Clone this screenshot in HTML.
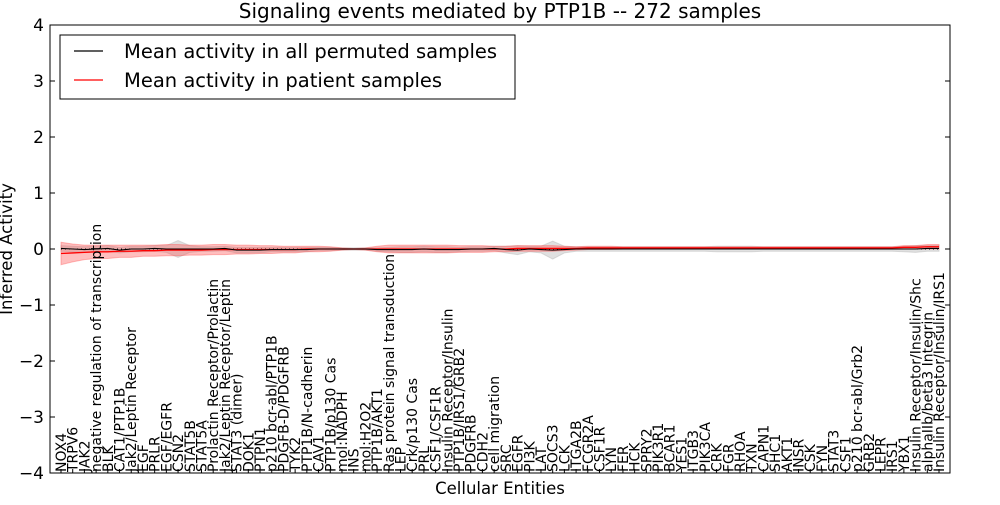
<!DOCTYPE html>
<html><head><meta charset="utf-8"><style>
body{margin:0;background:#fff;}
svg text{font-family:"DejaVu Sans","Liberation Sans",sans-serif;}
</style></head><body>
<svg id="chart" width="1000" height="500" xmlns="http://www.w3.org/2000/svg">
<rect width="1000" height="500" fill="#fff"/>
<text x="500" y="18" text-anchor="middle" font-size="20">Signaling events mediated by PTP1B -- 272 samples</text>
<g id="bands"></g>
<g id="lines"></g>
<g id="axes"></g>
<g id="xlabels"></g>
<text x="500" y="494" text-anchor="middle" font-size="16.5">Cellular Entities</text>
<text transform="translate(12,249) rotate(-90)" text-anchor="middle" font-size="16.5">Inferred Activity</text>
<g>
<rect x="60" y="35" width="455" height="64" fill="#fff" stroke="#000" stroke-width="1"/>
<line x1="74" y1="51" x2="103" y2="51" stroke="#000" stroke-width="1.2"/>
<text x="124" y="58" font-size="19.5">Mean activity in all permuted samples</text>
<line x1="74" y1="80" x2="103" y2="80" stroke="#f00" stroke-width="1.2"/>
<text x="124" y="87" font-size="19.5">Mean activity in patient samples</text>
</g>
</svg>
<script>
const categories=["NOX4","TRPV6","JAK2","negative regulation of transcription","BLK","CAT1/PTP1B","Jak2/Leptin Receptor","EGF","PRLR","EGF/EGFR","CSN2","STAT5B","STAT5A","Prolactin Receptor/Prolactin","Jak2/Leptin Receptor/Leptin","STAT3 (dimer)","DOK1","PTPN1","p210 bcr-abl/PTP1B","PDGFB-D/PDGFRB","TYK2","PTP1B/N-cadherin","CAV1","PTP1B/p130 Cas","mol:NADPH","INS","mol:H2O2","PTP1B/AKT1","Ras protein signal transduction","LEP","Crk/p130 Cas","PRL","CSF1/CSF1R","Insulin Receptor/Insulin","PTP1B/IRS1/GRB2","PDGFRB","CDH2","cell migration","SRC","EGFR","PI3K","LAT","SOCS3","LCK","ITGA2B","FCGR2A","CSF1R","LYN","FER","HCK","SPRY2","PIK3R1","BCAR1","YES1","ITGB3","PIK3CA","CRK","FGR","RHOA","TXN","CAPN1","SHC1","AKT1","INSR","CSK","FYN","STAT3","CSF1","p210 bcr-abl/Grb2","GRB2","LEPR","IRS1","YBX1","Insulin Receptor/Insulin/Shc","alphaIIb/beta3 Integrin","Insulin Receptor/Insulin/IRS1"];
const permMean=[0.01,0.0,-0.01,0.0,0.01,-0.02,0.0,0.0,0.01,0.0,0.0,0.0,0.0,0.0,0.01,-0.02,-0.02,-0.02,-0.01,-0.01,-0.01,-0.01,0.0,0.0,0.0,0.0,0.0,-0.01,-0.01,-0.01,-0.01,0.0,-0.01,-0.01,-0.01,0.0,0.0,0.01,-0.01,-0.02,0.0,-0.01,-0.02,-0.01,0.0,0.0,0.0,0.0,0.0,0.0,0.0,0.0,0.0,0.0,0.0,0.0,0.0,0.0,0.0,0.0,0.0,0.0,0.0,0.0,0.0,0.0,0.0,0.0,0.0,0.0,0.0,0.0,0.0,0.0,0.01,0.01];
const permStd=[0.05,0.05,0.05,0.05,0.05,0.05,0.05,0.05,0.05,0.06,0.15,0.06,0.04,0.04,0.04,0.05,0.05,0.05,0.04,0.04,0.04,0.04,0.03,0.03,0.02,0.02,0.02,0.03,0.04,0.05,0.05,0.05,0.05,0.05,0.04,0.04,0.04,0.04,0.06,0.08,0.05,0.06,0.16,0.06,0.04,0.04,0.04,0.04,0.04,0.04,0.04,0.04,0.04,0.04,0.04,0.04,0.05,0.05,0.05,0.05,0.04,0.04,0.04,0.04,0.04,0.04,0.04,0.04,0.04,0.04,0.04,0.04,0.05,0.06,0.05,0.05];
const patMean=[-0.08,-0.07,-0.06,-0.05,-0.05,-0.04,-0.04,-0.03,-0.03,-0.02,-0.02,-0.02,-0.02,-0.01,-0.01,-0.01,-0.01,-0.01,-0.01,-0.01,-0.01,0.0,0.0,0.0,0.0,0.0,0.0,0.0,0.0,0.0,0.0,0.0,0.0,0.0,0.0,0.0,0.0,0.0,0.0,0.01,0.01,0.01,0.01,0.01,0.01,0.02,0.02,0.02,0.02,0.02,0.02,0.02,0.02,0.02,0.02,0.02,0.02,0.02,0.02,0.02,0.02,0.02,0.02,0.02,0.02,0.02,0.02,0.02,0.02,0.02,0.02,0.02,0.03,0.03,0.04,0.04];
const patStd=[0.2,0.16,0.13,0.12,0.12,0.11,0.11,0.1,0.1,0.1,0.1,0.09,0.09,0.09,0.09,0.08,0.08,0.07,0.07,0.06,0.06,0.05,0.05,0.04,0.02,0.01,0.02,0.05,0.07,0.07,0.07,0.07,0.07,0.07,0.06,0.06,0.06,0.05,0.05,0.05,0.05,0.05,0.05,0.04,0.03,0.03,0.03,0.03,0.02,0.02,0.02,0.02,0.02,0.02,0.02,0.02,0.02,0.02,0.02,0.02,0.02,0.02,0.02,0.02,0.02,0.02,0.02,0.02,0.02,0.02,0.02,0.02,0.03,0.03,0.04,0.04];
const yTicks=[-4,-3,-2,-1,0,1,2,3,4];
const NS="http://www.w3.org/2000/svg";
const X0=50,X1=950,Y0=25,Y1=473;
function xs(i){return 61+i*(939-61)/(categories.length-1);}
function ys(v){return Y0+(4-v)*(Y1-Y0)/8;}
function mk(tag,attrs,parent){const e=document.createElementNS(NS,tag);for(const k in attrs)e.setAttribute(k,attrs[k]);parent.appendChild(e);return e;}
function band(mean,sd){let up=mean.map((m,i)=>xs(i)+","+ys(m+sd[i]));let dn=mean.map((m,i)=>xs(i)+","+ys(m-sd[i])).reverse();return up.concat(dn).join(" ");}
const bands=document.getElementById('bands');
const gb=mk('polygon',{points:band(permMean,permStd),fill:'#ccc','fill-opacity':'0.6',stroke:'#bbb','stroke-opacity':'0.5'},bands);


const rb=mk('polygon',{points:band(patMean,patStd),fill:'#f44','fill-opacity':'0.35',stroke:'#f44','stroke-opacity':'0.35'},bands);


const lines=document.getElementById('lines');
const zl=mk('line',{x1:xs(0),x2:xs(categories.length-1),y1:ys(0),y2:ys(0),stroke:'#000','stroke-dasharray':'1,3','stroke-width':1},lines);


const rl=mk('polyline',{points:patMean.map((m,i)=>xs(i)+","+ys(m)).join(" "),fill:'none',stroke:'#f00','stroke-width':1.3},lines);


const bl=mk('polyline',{points:permMean.map((m,i)=>xs(i)+","+ys(m)).join(" "),fill:'none',stroke:'#000','stroke-width':1.1},lines);


const axes=document.getElementById('axes');
const fr=mk('rect',{x:X0,y:Y0,width:X1-X0,height:Y1-Y0,fill:'none',stroke:'#000','stroke-width':1},axes);


yTicks.forEach(t=>{const y=ys(t);
mk('line',{x1:X0,x2:X0+5,y1:y,y2:y,stroke:'#000'},axes);
mk('line',{x1:X1-5,x2:X1,y1:y,y2:y,stroke:'#000'},axes);
const tx=mk('text',{x:X0-6,y:y+6,'text-anchor':'end','font-size':17},axes);
tx.textContent=(t<0?'\u2212'+(-t):String(t));

});
const xl=document.getElementById('xlabels');
categories.forEach((c,i)=>{const x=xs(i);
mk('line',{x1:x,x2:x,y1:Y1,y2:Y1-4,stroke:'#000'},xl);
const t=mk('text',{transform:`translate(${x+5},${Y1-1}) rotate(-90)`,'font-size':14},xl);
t.textContent=c;

});
</script>
</body></html>
